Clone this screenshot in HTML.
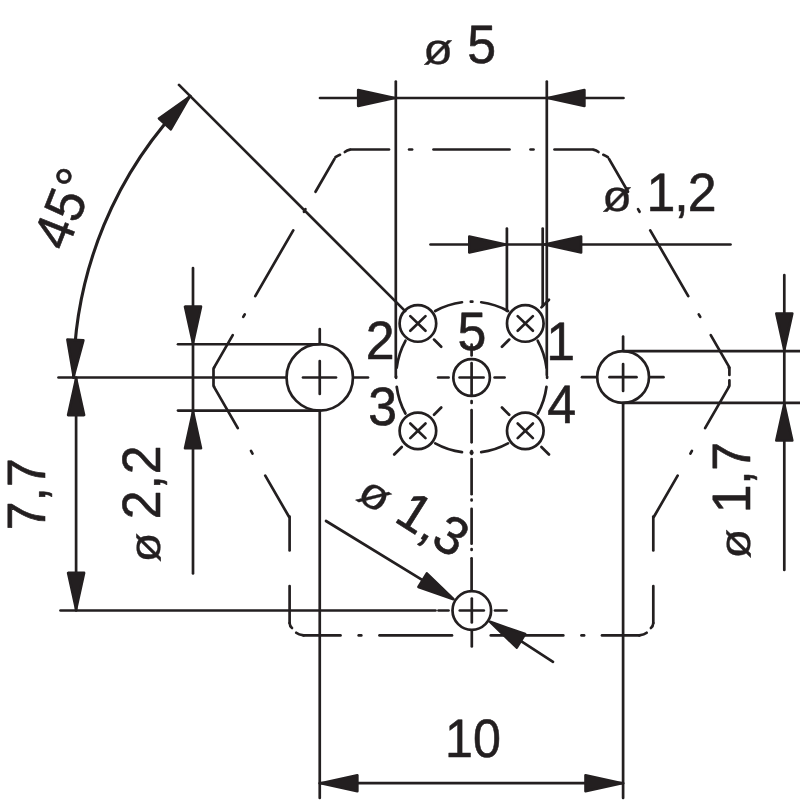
<!DOCTYPE html>
<html><head><meta charset="utf-8"><title>Connector pin layout</title>
<style>
html,body{margin:0;padding:0;background:#fff;}
svg{display:block;will-change:transform;}
svg text{font-family:"Liberation Sans",sans-serif;fill:#231f20;stroke:#231f20;stroke-width:0.6px;stroke-linejoin:round;text-rendering:geometricPrecision;}
</style></head>
<body>
<svg width="800" height="800" viewBox="0 0 800 800" stroke="#231f20" fill="none">
<rect x="0" y="0" width="800" height="800" fill="#fff" stroke="none"/>
<line x1="351.00" y1="149.50" x2="389.00" y2="149.50" stroke-width="2.7" stroke-linecap="round"/>
<line x1="409.10" y1="149.50" x2="412.10" y2="149.50" stroke-width="2.7" stroke-linecap="round"/>
<line x1="433.50" y1="149.50" x2="509.50" y2="149.50" stroke-width="2.7" stroke-linecap="round"/>
<line x1="530.50" y1="149.50" x2="533.50" y2="149.50" stroke-width="2.7" stroke-linecap="round"/>
<line x1="554.50" y1="149.50" x2="592.00" y2="149.50" stroke-width="2.7" stroke-linecap="round"/>
<line x1="334.50" y1="158.87" x2="315.50" y2="191.77" stroke-width="2.7" stroke-linecap="round"/>
<line x1="305.45" y1="209.18" x2="303.95" y2="211.78" stroke-width="2.7" stroke-linecap="round"/>
<line x1="293.25" y1="230.31" x2="255.25" y2="296.13" stroke-width="2.7" stroke-linecap="round"/>
<line x1="244.75" y1="314.32" x2="243.25" y2="316.92" stroke-width="2.7" stroke-linecap="round"/>
<line x1="232.75" y1="335.10" x2="214.00" y2="367.58" stroke-width="2.7" stroke-linecap="round"/>
<line x1="609.00" y1="158.87" x2="628.00" y2="191.77" stroke-width="2.7" stroke-linecap="round"/>
<line x1="638.05" y1="209.18" x2="639.55" y2="211.78" stroke-width="2.7" stroke-linecap="round"/>
<line x1="650.25" y1="230.31" x2="688.25" y2="296.13" stroke-width="2.7" stroke-linecap="round"/>
<line x1="698.75" y1="314.32" x2="700.25" y2="316.92" stroke-width="2.7" stroke-linecap="round"/>
<line x1="710.75" y1="335.10" x2="729.50" y2="367.58" stroke-width="2.7" stroke-linecap="round"/>
<path d="M335.5 157.2 Q337.5 155.8 340 154.8" stroke-width="2.7" fill="none" stroke-linecap="round" stroke-linejoin="round" />
<path d="M344.8 152 Q347 150.3 350 149.6" stroke-width="2.7" fill="none" stroke-linecap="round" stroke-linejoin="round" />
<path d="M607.8 157.2 Q605.8 155.8 603.3 154.8" stroke-width="2.7" fill="none" stroke-linecap="round" stroke-linejoin="round" />
<path d="M598.5 152 Q596.3 150.3 593.3 149.6" stroke-width="2.7" fill="none" stroke-linecap="round" stroke-linejoin="round" />
<path d="M214.1 367.7 L213.5 368.8 L213.5 385.6 L214.0 386.5" stroke-width="2.7" fill="none" stroke-linecap="round" stroke-linejoin="round" />
<path d="M728.8 367.7 L729.4 368.8 L729.4 375" stroke-width="2.7" fill="none" stroke-linecap="round" stroke-linejoin="round" />
<path d="M729.4 380.3 L729.4 385.6 L728.9 386.5" stroke-width="2.7" fill="none" stroke-linecap="round" stroke-linejoin="round" />
<line x1="214.00" y1="386.87" x2="237.80" y2="428.09" stroke-width="2.7" stroke-linecap="round"/>
<line x1="251.00" y1="450.95" x2="252.50" y2="453.55" stroke-width="2.7" stroke-linecap="round"/>
<line x1="265.25" y1="475.63" x2="289.00" y2="516.77" stroke-width="2.7" stroke-linecap="round"/>
<line x1="728.90" y1="386.87" x2="705.10" y2="428.09" stroke-width="2.7" stroke-linecap="round"/>
<line x1="691.90" y1="450.95" x2="690.40" y2="453.55" stroke-width="2.7" stroke-linecap="round"/>
<line x1="677.65" y1="475.63" x2="653.90" y2="516.77" stroke-width="2.7" stroke-linecap="round"/>
<line x1="289.60" y1="516.50" x2="289.60" y2="550.50" stroke-width="2.7" stroke-linecap="round"/>
<line x1="653.30" y1="516.50" x2="653.30" y2="550.50" stroke-width="2.7" stroke-linecap="round"/>
<line x1="289.60" y1="586.00" x2="289.60" y2="623.00" stroke-width="2.7" stroke-linecap="round"/>
<line x1="653.30" y1="586.00" x2="653.30" y2="623.00" stroke-width="2.7" stroke-linecap="round"/>
<path d="M289.6 623 Q289.8 626.4 292.0 628.0" stroke-width="2.7" fill="none" stroke-linecap="round" stroke-linejoin="round" />
<path d="M296.20000000000005 632.8 Q298.6 634.8 303.6 635.4" stroke-width="2.7" fill="none" stroke-linecap="round" stroke-linejoin="round" />
<path d="M653.3 623 Q653.0999999999999 626.4 650.9 628.0" stroke-width="2.7" fill="none" stroke-linecap="round" stroke-linejoin="round" />
<path d="M646.6999999999999 632.8 Q644.3 634.8 639.3 635.4" stroke-width="2.7" fill="none" stroke-linecap="round" stroke-linejoin="round" />
<line x1="303.60" y1="635.40" x2="340.50" y2="635.40" stroke-width="2.7" stroke-linecap="round"/>
<line x1="358.70" y1="635.40" x2="361.30" y2="635.40" stroke-width="2.7" stroke-linecap="round"/>
<line x1="379.50" y1="635.40" x2="452.00" y2="635.40" stroke-width="2.7" stroke-linecap="round"/>
<line x1="490.80" y1="635.40" x2="563.30" y2="635.40" stroke-width="2.7" stroke-linecap="round"/>
<line x1="581.50" y1="635.40" x2="584.10" y2="635.40" stroke-width="2.7" stroke-linecap="round"/>
<line x1="602.00" y1="635.40" x2="639.30" y2="635.40" stroke-width="2.7" stroke-linecap="round"/>
<circle cx="319.75" cy="377.40" r="33.20" stroke-width="2.7" fill="none"/>
<circle cx="623.10" cy="377.00" r="25.90" stroke-width="2.7" fill="none"/>
<line x1="303.00" y1="377.50" x2="336.00" y2="377.50" stroke-width="2.7" stroke-linecap="round"/>
<line x1="319.75" y1="361.00" x2="319.75" y2="394.00" stroke-width="2.7" stroke-linecap="round"/>
<line x1="58.50" y1="377.50" x2="285.50" y2="377.50" stroke-width="2.7" stroke-linecap="round"/>
<line x1="354.50" y1="377.50" x2="368.00" y2="377.50" stroke-width="2.7" stroke-linecap="round"/>
<line x1="319.75" y1="329.00" x2="319.75" y2="343.50" stroke-width="2.7" stroke-linecap="round"/>
<line x1="319.75" y1="411.00" x2="319.75" y2="798.00" stroke-width="2.7" stroke-linecap="round"/>
<line x1="178.00" y1="344.25" x2="319.75" y2="344.25" stroke-width="2.7" stroke-linecap="round"/>
<line x1="178.00" y1="410.60" x2="319.75" y2="410.60" stroke-width="2.7" stroke-linecap="round"/>
<line x1="609.50" y1="377.20" x2="636.50" y2="377.20" stroke-width="2.7" stroke-linecap="round"/>
<line x1="623.10" y1="364.00" x2="623.10" y2="391.00" stroke-width="2.7" stroke-linecap="round"/>
<line x1="582.00" y1="377.20" x2="596.00" y2="377.20" stroke-width="2.7" stroke-linecap="round"/>
<line x1="650.50" y1="377.20" x2="663.50" y2="377.20" stroke-width="2.7" stroke-linecap="round"/>
<line x1="623.10" y1="336.50" x2="623.10" y2="350.50" stroke-width="2.7" stroke-linecap="round"/>
<line x1="623.10" y1="403.50" x2="623.10" y2="798.00" stroke-width="2.7" stroke-linecap="round"/>
<line x1="623.10" y1="351.10" x2="799.50" y2="351.10" stroke-width="2.7" stroke-linecap="round"/>
<line x1="623.10" y1="402.90" x2="799.50" y2="402.90" stroke-width="2.7" stroke-linecap="round"/>
<circle cx="417.90" cy="323.45" r="18.30" stroke-width="2.7" fill="none"/>
<line x1="410.30" y1="316.15" x2="425.50" y2="330.75" stroke-width="2.7" stroke-linecap="round"/>
<line x1="410.30" y1="330.75" x2="425.50" y2="316.15" stroke-width="2.7" stroke-linecap="round"/>
<line x1="434.02" y1="339.57" x2="441.23" y2="346.78" stroke-width="2.7" stroke-linecap="round"/>
<circle cx="417.90" cy="430.85" r="18.30" stroke-width="2.7" fill="none"/>
<line x1="410.30" y1="423.55" x2="425.50" y2="438.15" stroke-width="2.7" stroke-linecap="round"/>
<line x1="410.30" y1="438.15" x2="425.50" y2="423.55" stroke-width="2.7" stroke-linecap="round"/>
<line x1="434.02" y1="414.73" x2="441.23" y2="407.52" stroke-width="2.7" stroke-linecap="round"/>
<line x1="401.78" y1="446.97" x2="394.21" y2="454.54" stroke-width="2.7" stroke-linecap="round"/>
<circle cx="525.30" cy="323.45" r="18.30" stroke-width="2.7" fill="none"/>
<line x1="517.70" y1="316.15" x2="532.90" y2="330.75" stroke-width="2.7" stroke-linecap="round"/>
<line x1="517.70" y1="330.75" x2="532.90" y2="316.15" stroke-width="2.7" stroke-linecap="round"/>
<line x1="509.18" y1="339.57" x2="501.97" y2="346.78" stroke-width="2.7" stroke-linecap="round"/>
<line x1="541.42" y1="307.33" x2="548.99" y2="299.76" stroke-width="2.7" stroke-linecap="round"/>
<circle cx="525.30" cy="430.85" r="18.30" stroke-width="2.7" fill="none"/>
<line x1="517.70" y1="423.55" x2="532.90" y2="438.15" stroke-width="2.7" stroke-linecap="round"/>
<line x1="517.70" y1="438.15" x2="532.90" y2="423.55" stroke-width="2.7" stroke-linecap="round"/>
<line x1="509.18" y1="414.73" x2="501.97" y2="407.52" stroke-width="2.7" stroke-linecap="round"/>
<line x1="541.42" y1="446.97" x2="548.99" y2="454.54" stroke-width="2.7" stroke-linecap="round"/>
<circle cx="471.60" cy="377.50" r="18.30" stroke-width="2.7" fill="none"/>
<line x1="459.60" y1="377.50" x2="483.60" y2="377.50" stroke-width="2.7" stroke-linecap="round"/>
<line x1="438.10" y1="377.50" x2="448.60" y2="377.50" stroke-width="2.7" stroke-linecap="round"/>
<line x1="494.60" y1="377.50" x2="504.60" y2="377.50" stroke-width="2.7" stroke-linecap="round"/>
<line x1="471.60" y1="344.70" x2="471.60" y2="355.50" stroke-width="2.7" stroke-linecap="round"/>
<line x1="471.60" y1="363.20" x2="471.60" y2="395.00" stroke-width="2.7" stroke-linecap="round"/>
<line x1="471.60" y1="401.00" x2="471.60" y2="403.00" stroke-width="2.7" stroke-linecap="round"/>
<line x1="471.60" y1="410.20" x2="471.60" y2="442.30" stroke-width="2.7" stroke-linecap="round"/>
<line x1="471.60" y1="451.00" x2="471.60" y2="454.00" stroke-width="2.7" stroke-linecap="round"/>
<line x1="471.60" y1="459.00" x2="471.60" y2="494.20" stroke-width="2.7" stroke-linecap="round"/>
<line x1="471.60" y1="499.50" x2="471.60" y2="500.50" stroke-width="2.7" stroke-linecap="round"/>
<line x1="471.60" y1="508.80" x2="471.60" y2="543.70" stroke-width="2.7" stroke-linecap="round"/>
<line x1="471.60" y1="549.00" x2="471.60" y2="550.00" stroke-width="2.7" stroke-linecap="round"/>
<line x1="471.60" y1="558.30" x2="471.60" y2="590.00" stroke-width="2.7" stroke-linecap="round"/>
<path d="M546.49 386.74 A75.5 75.5 0 0 1 537.76 413.52" stroke-width="2.7" fill="none" stroke-linecap="round" stroke-linejoin="round" />
<path d="M546.49 367.56 A75.5 75.5 0 0 0 537.76 340.78" stroke-width="2.7" fill="none" stroke-linecap="round" stroke-linejoin="round" />
<path d="M547.10 376.49 A75.5 75.5 0 0 1 547.10 377.81" stroke-width="2.7" fill="none" stroke-linecap="round" stroke-linejoin="round" />
<path d="M462.01 452.04 A75.5 75.5 0 0 1 435.23 443.31" stroke-width="2.7" fill="none" stroke-linecap="round" stroke-linejoin="round" />
<path d="M481.19 452.04 A75.5 75.5 0 0 0 507.97 443.31" stroke-width="2.7" fill="none" stroke-linecap="round" stroke-linejoin="round" />
<path d="M472.39 452.65 A75.5 75.5 0 0 1 470.81 452.65" stroke-width="2.7" fill="none" stroke-linecap="round" stroke-linejoin="round" />
<path d="M396.71 367.56 A75.5 75.5 0 0 1 405.44 340.78" stroke-width="2.7" fill="none" stroke-linecap="round" stroke-linejoin="round" />
<path d="M396.71 386.74 A75.5 75.5 0 0 0 405.44 413.52" stroke-width="2.7" fill="none" stroke-linecap="round" stroke-linejoin="round" />
<path d="M396.10 377.81 A75.5 75.5 0 0 1 396.10 376.49" stroke-width="2.7" fill="none" stroke-linecap="round" stroke-linejoin="round" />
<path d="M481.19 302.26 A75.5 75.5 0 0 1 507.97 310.99" stroke-width="2.7" fill="none" stroke-linecap="round" stroke-linejoin="round" />
<path d="M462.01 302.26 A75.5 75.5 0 0 0 435.23 310.99" stroke-width="2.7" fill="none" stroke-linecap="round" stroke-linejoin="round" />
<path d="M470.81 301.65 A75.5 75.5 0 0 1 472.39 301.65" stroke-width="2.7" fill="none" stroke-linecap="round" stroke-linejoin="round" />
<circle cx="471.80" cy="610.50" r="19.30" stroke-width="2.7" fill="none"/>
<line x1="459.80" y1="610.50" x2="483.80" y2="610.50" stroke-width="2.7" stroke-linecap="round"/>
<line x1="471.80" y1="598.50" x2="471.80" y2="622.50" stroke-width="2.7" stroke-linecap="round"/>
<line x1="60.50" y1="610.50" x2="435.50" y2="610.50" stroke-width="2.7" stroke-linecap="round"/>
<line x1="438.50" y1="610.50" x2="448.50" y2="610.50" stroke-width="2.7" stroke-linecap="round"/>
<line x1="495.00" y1="610.50" x2="506.50" y2="610.50" stroke-width="2.7" stroke-linecap="round"/>
<line x1="471.80" y1="631.50" x2="471.80" y2="646.50" stroke-width="2.7" stroke-linecap="round"/>
<line x1="326.00" y1="521.00" x2="429.09" y2="584.12" stroke-width="2.7" stroke-linecap="round"/>
<polygon points="453.51,599.20 418.42,586.93 426.83,573.32" fill="#231f20" stroke-width="2.6" stroke-linejoin="round"/>
<line x1="514.51" y1="636.88" x2="553.00" y2="661.80" stroke-width="2.7" stroke-linecap="round"/>
<polygon points="490.09,621.80 525.18,634.07 516.77,647.68" fill="#231f20" stroke-width="2.6" stroke-linejoin="round"/>
<line x1="395.80" y1="81.50" x2="395.80" y2="377.00" stroke-width="2.7" stroke-linecap="round"/>
<line x1="546.80" y1="81.50" x2="546.80" y2="375.00" stroke-width="2.7" stroke-linecap="round"/>
<line x1="320.00" y1="98.00" x2="623.50" y2="98.00" stroke-width="2.7" stroke-linecap="round"/>
<polygon points="394.50,98.00 358.20,106.00 358.20,90.00" fill="#231f20" stroke-width="2.6" stroke-linejoin="round"/>
<polygon points="548.10,98.00 584.40,90.00 584.40,106.00" fill="#231f20" stroke-width="2.6" stroke-linejoin="round"/>
<line x1="430.50" y1="244.50" x2="730.50" y2="244.50" stroke-width="2.7" stroke-linecap="round"/>
<line x1="506.90" y1="228.50" x2="506.90" y2="311.00" stroke-width="2.7" stroke-linecap="round"/>
<line x1="542.70" y1="228.50" x2="542.70" y2="306.00" stroke-width="2.7" stroke-linecap="round"/>
<polygon points="505.60,244.50 469.30,252.50 469.30,236.50" fill="#231f20" stroke-width="2.6" stroke-linejoin="round"/>
<polygon points="544.80,244.50 581.10,236.50 581.10,252.50" fill="#231f20" stroke-width="2.6" stroke-linejoin="round"/>
<line x1="179.00" y1="84.90" x2="405.20" y2="311.10" stroke-width="2.7" stroke-linecap="round"/>
<path d="M73.60 377.50 A398 398 0 0 1 190.17 96.07" stroke-width="3.1" fill="none" stroke-linecap="round" stroke-linejoin="round" />
<polygon points="73.66,376.20 67.38,339.56 83.36,340.32" fill="#231f20" stroke-width="2.6" stroke-linejoin="round"/>
<polygon points="189.30,97.03 170.78,129.27 158.95,118.50" fill="#231f20" stroke-width="2.6" stroke-linejoin="round"/>
<line x1="76.10" y1="377.50" x2="76.10" y2="610.50" stroke-width="2.7" stroke-linecap="round"/>
<polygon points="76.10,378.80 84.10,415.10 68.10,415.10" fill="#231f20" stroke-width="2.6" stroke-linejoin="round"/>
<polygon points="76.10,609.20 68.10,572.90 84.10,572.90" fill="#231f20" stroke-width="2.6" stroke-linejoin="round"/>
<line x1="193.00" y1="268.00" x2="193.00" y2="573.50" stroke-width="2.7" stroke-linecap="round"/>
<polygon points="193.00,342.95 185.00,306.65 201.00,306.65" fill="#231f20" stroke-width="2.6" stroke-linejoin="round"/>
<polygon points="193.00,411.90 201.00,448.20 185.00,448.20" fill="#231f20" stroke-width="2.6" stroke-linejoin="round"/>
<line x1="784.30" y1="275.00" x2="784.30" y2="570.00" stroke-width="2.7" stroke-linecap="round"/>
<polygon points="784.30,349.80 776.30,313.50 792.30,313.50" fill="#231f20" stroke-width="2.6" stroke-linejoin="round"/>
<polygon points="784.30,404.20 792.30,440.50 776.30,440.50" fill="#231f20" stroke-width="2.6" stroke-linejoin="round"/>
<line x1="319.75" y1="783.20" x2="623.10" y2="783.20" stroke-width="2.7" stroke-linecap="round"/>
<polygon points="321.05,783.20 357.35,775.20 357.35,791.20" fill="#231f20" stroke-width="2.6" stroke-linejoin="round"/>
<polygon points="621.80,783.20 585.50,791.20 585.50,775.20" fill="#231f20" stroke-width="2.6" stroke-linejoin="round"/>
<text transform="translate(424.60,63.30) rotate(0) translate(-1.7,0.7) scale(1.13,1)" font-size="43.5" style="stroke-width:0.3px;paint-order:stroke fill">ø</text>
<text transform="translate(467.30,63.00) rotate(0) scale(0.96,1)" font-size="54.0" text-anchor="start" >5</text>
<text transform="translate(603.80,210.60) rotate(0) translate(-1.7,0.7) scale(1.13,1)" font-size="43.5" style="stroke-width:0.3px;paint-order:stroke fill">ø</text>
<text transform="translate(646.50,210.50) rotate(0) scale(0.96,1)" font-size="54.0" text-anchor="start" letter-spacing="-1">1,2</text>
<text transform="translate(472.90,757.20) rotate(0) scale(0.93,1)" font-size="54.0" text-anchor="middle" >10</text>
<text transform="translate(45.00,530.30) rotate(-90) scale(0.96,1)" font-size="54.0" text-anchor="start" letter-spacing="0">7,7</text>
<text transform="translate(158.80,560.80) rotate(-90) translate(-1.7,0.7) scale(1.13,1)" font-size="43.5" style="stroke-width:0.3px;paint-order:stroke fill">ø</text>
<text transform="translate(160.00,519.30) rotate(-90) scale(0.96,1)" font-size="54.0" text-anchor="start" letter-spacing="1">2,2</text>
<text transform="translate(748.80,557.00) rotate(-90) translate(-1.7,0.7) scale(1.13,1)" font-size="43.5" style="stroke-width:0.3px;paint-order:stroke fill">ø</text>
<text transform="translate(750.00,513.30) rotate(-90) scale(0.96,1)" font-size="54.0" text-anchor="start" letter-spacing="-0.3">1,7</text>
<text transform="translate(66.50,252.40) rotate(-68.5) scale(0.96,1)" font-size="54.0" text-anchor="start" letter-spacing="1">45°</text>
<text transform="translate(356.70,499.00) rotate(32.3) translate(-1.7,0.7) scale(1.13,1)" font-size="43.5" style="stroke-width:0.3px;paint-order:stroke fill">ø</text>
<text transform="translate(392.70,520.50) rotate(32.3) scale(0.96,1)" font-size="54.0" text-anchor="start" >1,3</text>
<text transform="translate(365.70,359.20) rotate(0) scale(0.96,1)" font-size="54.0" text-anchor="start" >2</text>
<text transform="translate(457.40,350.10) rotate(0) scale(0.96,1)" font-size="54.0" text-anchor="start" >5</text>
<text transform="translate(546.30,360.40) rotate(0) scale(0.96,1)" font-size="54.0" text-anchor="start" >1</text>
<text transform="translate(368.30,425.10) rotate(0) scale(0.96,1)" font-size="54.0" text-anchor="start" >3</text>
<text transform="translate(547.30,423.00) rotate(0) scale(0.96,1)" font-size="54.0" text-anchor="start" >4</text>
</svg>
</body></html>
